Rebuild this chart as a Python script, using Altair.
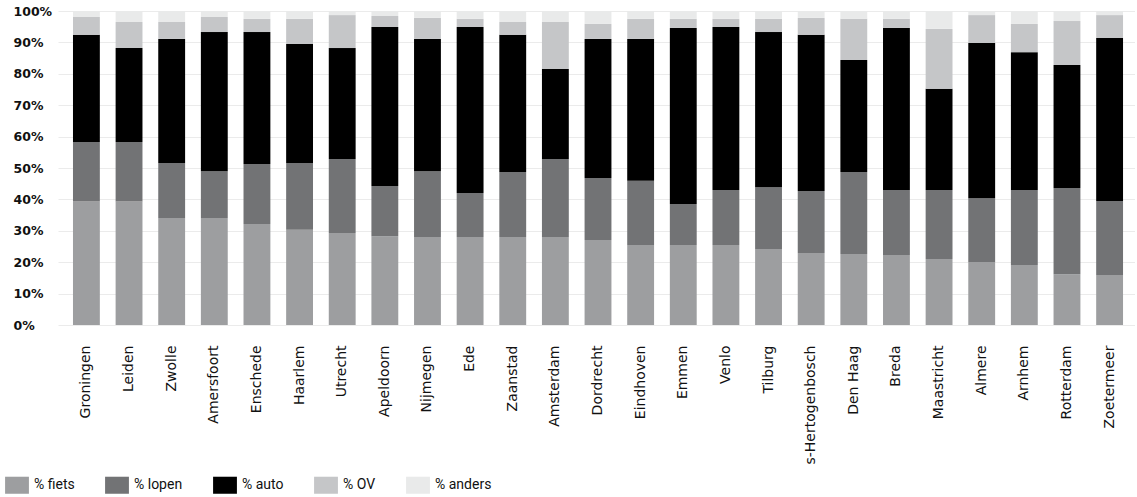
import altair as alt
import pandas as pd

cities = ["Groningen", "Leiden", "Zwolle", "Amersfoort", "Enschede", "Haarlem", "Utrecht",
          "Apeldoorn", "Nijmegen", "Ede", "Zaanstad", "Amsterdam", "Dordrecht", "Eindhoven",
          "Emmen", "Venlo", "Tilburg", "s-Hertogenbosch", "Den Haag", "Breda", "Maastricht",
          "Almere", "Arnhem", "Rotterdam", "Zoetermeer"]

fiets = [39.3, 39.3, 34.1, 34.1, 32.2, 30.3, 29.3, 28.3, 28.0, 28.0, 28.0, 28.0, 27.1, 25.5,
         25.5, 25.5, 24.2, 22.9, 22.6, 22.3, 21.0, 20.1, 19.1, 16.2, 15.9]
lopen = [19.0, 19.0, 17.5, 14.9, 19.1, 21.3, 23.6, 16.0, 21.0, 14.0, 20.7, 24.9, 19.7, 20.4,
         13.0, 17.5, 19.7, 19.8, 26.1, 20.7, 22.0, 20.3, 23.9, 27.4, 23.6]
auto = [34.1, 29.9, 39.5, 44.3, 42.0, 37.9, 35.3, 50.6, 42.1, 52.9, 43.7, 28.6, 44.3, 45.2,
        56.1, 51.9, 49.4, 49.7, 35.7, 51.6, 32.2, 49.4, 43.9, 39.2, 51.9]
ov = [5.7, 8.3, 5.4, 4.8, 4.2, 8.0, 10.5, 3.5, 6.7, 2.6, 4.1, 15.0, 4.8, 6.4,
      2.9, 2.6, 4.2, 5.4, 13.1, 2.9, 19.1, 8.9, 9.0, 14.0, 7.3]
anders = [1.9, 3.5, 3.5, 1.9, 2.5, 2.5, 1.3, 1.6, 2.2, 2.5, 3.5, 3.5, 4.1, 2.5,
          2.5, 2.5, 2.5, 2.2, 2.5, 2.5, 5.7, 1.3, 4.1, 3.2, 1.3]

series_names = ["% fiets", "% lopen", "% auto", "% OV", "% anders"]
series_colors = ["#9d9ea0", "#727375", "#000000", "#c5c6c8", "#e9eaea"]
y_ticks = [0, 10, 20, 30, 40, 50, 60, 70, 80, 90, 100]

rows = []
for name, vals in zip(series_names, [fiets, lopen, auto, ov, anders]):
    for c, v in zip(cities, vals):
        rows.append({"stad": c, "modus": name, "waarde": v,
                     "volgorde": series_names.index(name)})
df = pd.DataFrame(rows)

chart = alt.Chart(df).mark_bar().encode(
    x=alt.X("stad:N", sort=cities, title=None,
            scale=alt.Scale(paddingInner=0.37, paddingOuter=0.316, align=0.556),
            axis=alt.Axis(labelAngle=-90, labelAlign="right", labelBaseline="middle",
                          labelPadding=20, ticks=False, tickSize=0, domain=False,
                          labelFont="DejaVu Sans", labelFontSize=14, labelColor="#111111",
                          grid=False)),
    y=alt.Y("waarde:Q", stack="zero", title=None,
            scale=alt.Scale(domain=[0, 100], nice=False),
            axis=alt.Axis(values=y_ticks, labelExpr="datum.value + '%'",
                          labelAlign="left", labelPadding=45, ticks=False, tickSize=0,
                          domain=False, labelFont="DejaVu Sans", labelFontSize=12.5,
                          labelFontWeight="bold", labelColor="#111111",
                          grid=True, gridColor="#ebebeb", gridWidth=1)),
    color=alt.Color("modus:N", sort=series_names,
                    scale=alt.Scale(domain=series_names, range=series_colors),
                    legend=alt.Legend(title=None, orient="none", direction="horizontal",
                                      legendX=-50, legendY=465,
                                      symbolType="M-1.4,-1L1.4,-1L1.4,1L-1.4,1Z",
                                      symbolSize=290, symbolStrokeWidth=0,
                                      labelFont="Roboto", labelFontSize=14,
                                      labelColor="#111111", labelOffset=8,
                                      columnPadding=30, padding=0)),
    order=alt.Order("volgorde:Q", sort="ascending"),
).properties(
    width=1077, height=314,
    padding={"left": 8, "top": 5, "right": 0, "bottom": 2},
).configure_view(stroke=None)

chart.save("out.html", embed_options={"renderer": "svg", "actions": False})
